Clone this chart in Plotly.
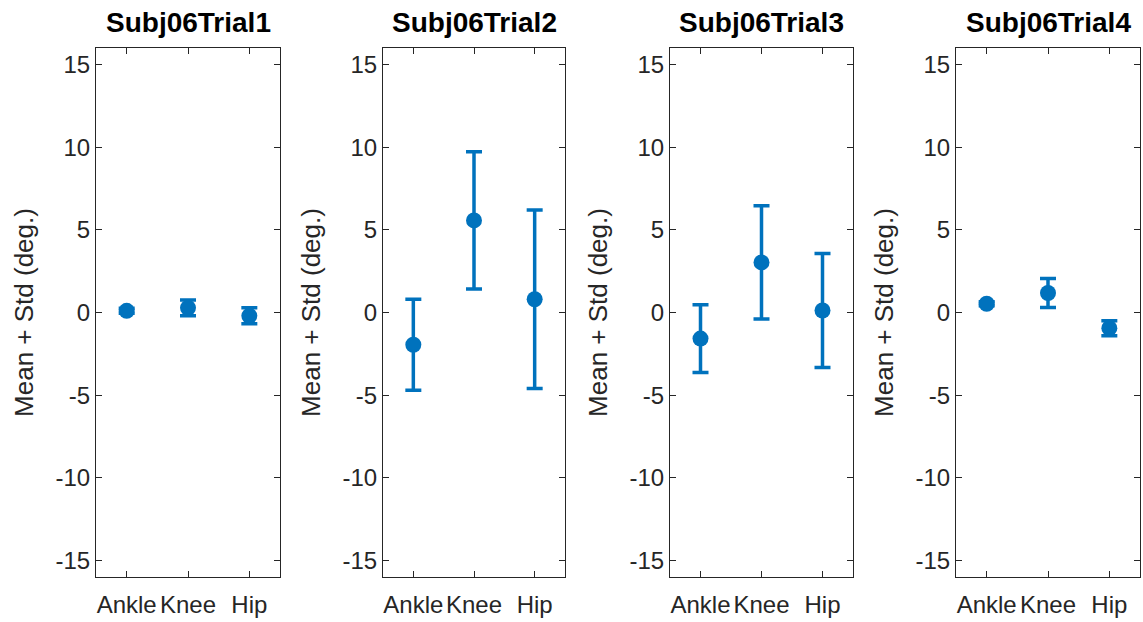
import plotly.graph_objects as go

titles = ["Subj06Trial1", "Subj06Trial2", "Subj06Trial3", "Subj06Trial4"]
joints = ["Ankle", "Knee", "Hip"]
means = [
    [0.10, 0.28, -0.20],
    [-1.95, 5.57, 0.80],
    [-1.58, 3.03, 0.12],
    [0.53, 1.18, -0.95],
]
stds = [
    [0.15, 0.48, 0.48],
    [2.75, 4.15, 5.40],
    [2.05, 3.42, 3.45],
    [0.12, 0.87, 0.45],
]
ytick_vals = [-15, -10, -5, 0, 5, 10, 15]
ytick_text = ["-15", "-10", "-5", "0", "5", "10", "15"]

W, H = 1143, 622
panels_px = [(96, 280), (383, 565), (670, 853), (956, 1140)]
top_px, bot_px = 48, 577
color = "#0072BD"
axcol = "#262626"
font_family = "Liberation Sans, Arial, sans-serif"

fig = go.Figure()
layout = dict(
    width=W, height=H,
    margin=dict(l=0, r=0, t=0, b=0),
    paper_bgcolor="white", plot_bgcolor="white",
    showlegend=False,
    font=dict(family=font_family, color=axcol),
)
annotations = []
for i in range(4):
    sfx = "" if i == 0 else str(i + 1)
    fig.add_trace(go.Scatter(
        x=[1, 2, 3], y=means[i],
        mode="markers",
        marker=dict(color=color, size=16),
        error_y=dict(type="data", array=stds[i], visible=True,
                     color=color, thickness=3.5, width=8),
        xaxis="x" + sfx, yaxis="y" + sfx,
        cliponaxis=False,
    ))
    x0, x1 = panels_px[i]
    layout["xaxis" + sfx] = dict(
        domain=[x0 / W, x1 / W], anchor="y" + sfx,
        range=[0.5, 3.5], tickvals=[1, 2, 3], ticktext=joints,
        ticks="inside", ticklen=6, tickcolor=axcol, tickwidth=1,
        showline=True, linecolor=axcol, linewidth=1.2, mirror="ticks",
        showgrid=False, zeroline=False, ticklabelstandoff=6,
        tickfont=dict(size=24, color=axcol, family=font_family),
    )
    layout["yaxis" + sfx] = dict(
        domain=[1 - bot_px / H, 1 - top_px / H], anchor="x" + sfx,
        range=[-16, 16], tickvals=ytick_vals, ticktext=ytick_text,
        ticks="inside", ticklen=6, tickcolor=axcol, tickwidth=1,
        showline=True, linecolor=axcol, linewidth=1.2, mirror="ticks",
        showgrid=False, zeroline=False,
        tickfont=dict(size=24, color=axcol, family=font_family),
        title=dict(text="Mean + Std (deg.)", standoff=14,
                   font=dict(size=26, color=axcol, family=font_family)),
    )
    annotations.append(dict(
        text="<b>" + titles[i] + "</b>", x=(x0 + x1) / 2 / W, y=1 - 23 / H,
        xref="paper", yref="paper", showarrow=False,
        xanchor="center", yanchor="middle",
        font=dict(size=28, color="black", family=font_family),
    ))
layout["annotations"] = annotations
fig.update_layout(**layout)
fig.write_html("out.html")
